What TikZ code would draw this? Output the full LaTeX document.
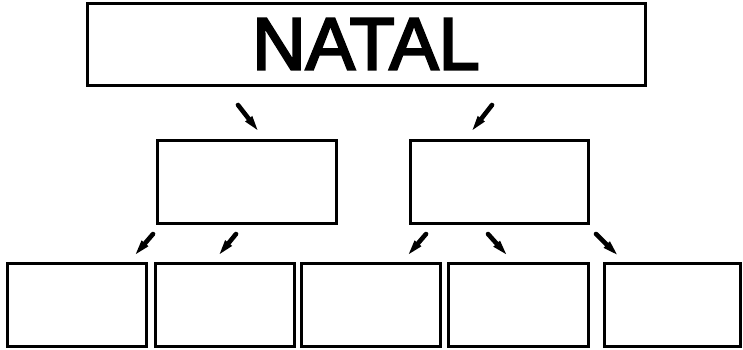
\documentclass[tikz,border=0pt]{standalone}
\usepackage{fontspec}
\setmainfont{Liberation Sans}
\newfontfamily\titlefont[FakeBold=3]{Liberation Sans}
\usetikzlibrary{arrows.meta}
\tikzset{
    box/.style={draw=black, line width=3pt, inner sep=0pt, minimum height=83pt},
    dart/.style={-{Triangle[length=20pt,width=7pt]}, line width=4.6pt, line cap=round, black},
}

\begin{document}
\begin{tikzpicture}[x=1pt, y=-1pt]
    \useasboundingbox (0,0) rectangle (743,349);

    % top box with the title
    \node[box, minimum width=558pt, minimum height=82pt] (natal) at (366,44)
        {\titlefont\fontsize{74}{74}\selectfont NATAL};

    % middle row
    \node[box, minimum width=179pt] (midleft) at (246.5,181.5) {};
    \node[box, minimum width=178pt] (midright) at (499,181.5) {};

    % bottom row
    \node[box, minimum width=139pt] (bot1) at (76.5,304.5) {};
    \node[box, minimum width=139pt] (bot2) at (224.5,304.5) {};
    \node[box, minimum width=139pt] (bot3) at (370.5,304.5) {};
    \node[box, minimum width=140pt] (bot4) at (518,304.5) {};
    \node[box, minimum width=136pt] (bot5) at (672,304.5) {};

    % darts under the top box
    \coordinate (s1) at (238,105);
    \coordinate (s2) at (492,105);
    \draw[dart] (s1) -- ([xshift=14.5pt,yshift=4pt]midleft.north);
    \draw[dart] (s2) -- ([xshift=-30pt,yshift=4pt]midright.north);

    % darts under the middle boxes
    \coordinate (s3) at (153,234);
    \coordinate (s4) at (236,234);
    \coordinate (s5) at (426,234);
    \coordinate (s6) at (488,234);
    \coordinate (s7) at (596,234);
    \draw[dart] (s3) -- ([xshift=55.5pt,yshift=3pt]bot1.north);
    \draw[dart] (s4) -- ([xshift=-8.5pt,yshift=3pt]bot2.north);
    \draw[dart] (s5) -- ([xshift=34.5pt,yshift=3pt]bot3.north);
    \draw[dart] (s6) -- ([xshift=-8pt,yshift=3pt]bot4.north);
    \draw[dart] (s7) -- ([xshift=-51pt,yshift=3pt]bot5.north);

\end{tikzpicture}
\end{document}
